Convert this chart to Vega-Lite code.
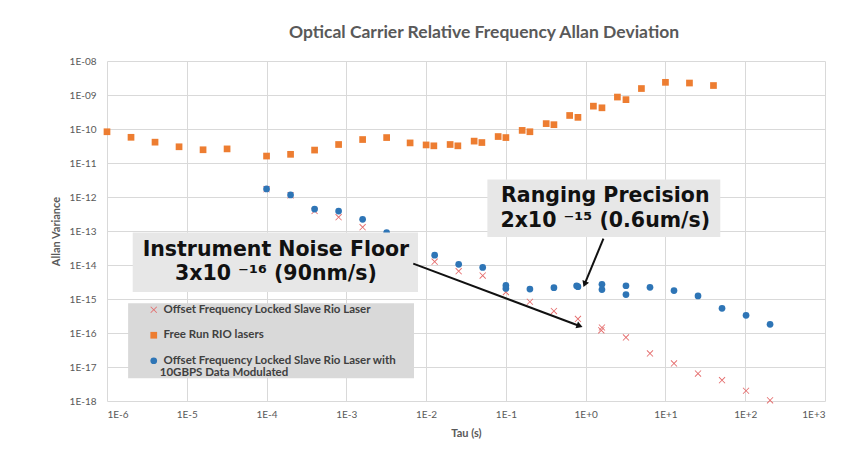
{
  "$schema": "https://vega.github.io/schema/vega-lite/v6.json",
  "width": 718,
  "height": 340,
  "autosize": {"type": "none"},
  "padding": {"left": 107, "top": 61, "right": 40, "bottom": 48},
  "background": "white",
  "title": {
    "text": "Optical Carrier Relative Frequency Allan Deviation",
    "font": "Lato",
    "fontSize": 17.5,
    "fontWeight": "bold",
    "color": "#595959",
    "anchor": "middle",
    "dx": 18,
    "offset": 15
  },
  "config": {
    "view": {"stroke": null},
    "font": "Lato",
    "legend": {
      "orient": "none",
      "legendX": 41,
      "legendY": 243,
      "padding": 0,
      "rowPadding": 12.5,
      "labelFont": "Lato",
      "labelFontWeight": "bold",
      "labelFontSize": 11.5,
      "labelColor": "#404040",
      "labelLimit": 400,
      "symbolSize": 45
    }
  },
  "datasets": {
    "pts": [
      {"series": "Offset Frequency Locked Slave Rio Laser", "tau": 1e-4, "v": 1.7e-12},
      {"series": "Offset Frequency Locked Slave Rio Laser", "tau": 2e-4, "v": 1.12e-12},
      {"series": "Offset Frequency Locked Slave Rio Laser", "tau": 4e-4, "v": 3.9e-13},
      {"series": "Offset Frequency Locked Slave Rio Laser", "tau": 8e-4, "v": 2.55e-13},
      {"series": "Offset Frequency Locked Slave Rio Laser", "tau": 1.6e-3, "v": 1.3e-13},
      {"series": "Offset Frequency Locked Slave Rio Laser", "tau": 3.2e-3, "v": 5.5e-14},
      {"series": "Offset Frequency Locked Slave Rio Laser", "tau": 6.4e-3, "v": 2.5e-14},
      {"series": "Offset Frequency Locked Slave Rio Laser", "tau": 1.28e-2, "v": 1.25e-14},
      {"series": "Offset Frequency Locked Slave Rio Laser", "tau": 2.56e-2, "v": 6.6e-15},
      {"series": "Offset Frequency Locked Slave Rio Laser", "tau": 5.12e-2, "v": 4.9e-15},
      {"series": "Offset Frequency Locked Slave Rio Laser", "tau": 0.1, "v": 1.6e-15},
      {"series": "Offset Frequency Locked Slave Rio Laser", "tau": 0.2, "v": 8.3e-16},
      {"series": "Offset Frequency Locked Slave Rio Laser", "tau": 0.4, "v": 4.4e-16},
      {"series": "Offset Frequency Locked Slave Rio Laser", "tau": 0.8, "v": 2.6e-16},
      {"series": "Offset Frequency Locked Slave Rio Laser", "tau": 1.6, "v": 1.45e-16},
      {"series": "Offset Frequency Locked Slave Rio Laser", "tau": 1.57, "v": 1.2e-16},
      {"series": "Offset Frequency Locked Slave Rio Laser", "tau": 3.2, "v": 7.4e-17},
      {"series": "Offset Frequency Locked Slave Rio Laser", "tau": 6.4, "v": 2.5e-17},
      {"series": "Offset Frequency Locked Slave Rio Laser", "tau": 12.8, "v": 1.27e-17},
      {"series": "Offset Frequency Locked Slave Rio Laser", "tau": 25.6, "v": 6.4e-18},
      {"series": "Offset Frequency Locked Slave Rio Laser", "tau": 51.2, "v": 4.1e-18},
      {"series": "Offset Frequency Locked Slave Rio Laser", "tau": 102.4, "v": 2.0e-18},
      {"series": "Offset Frequency Locked Slave Rio Laser", "tau": 204.8, "v": 1.05e-18},
      {"series": "Free Run RIO lasers", "tau": 1e-6, "v": 8.3e-11},
      {"series": "Free Run RIO lasers", "tau": 2e-6, "v": 5.7e-11},
      {"series": "Free Run RIO lasers", "tau": 4e-6, "v": 4.1e-11},
      {"series": "Free Run RIO lasers", "tau": 8e-6, "v": 3.0e-11},
      {"series": "Free Run RIO lasers", "tau": 1.6e-5, "v": 2.45e-11},
      {"series": "Free Run RIO lasers", "tau": 3.2e-5, "v": 2.6e-11},
      {"series": "Free Run RIO lasers", "tau": 1e-4, "v": 1.6e-11},
      {"series": "Free Run RIO lasers", "tau": 2e-4, "v": 1.8e-11},
      {"series": "Free Run RIO lasers", "tau": 4e-4, "v": 2.4e-11},
      {"series": "Free Run RIO lasers", "tau": 8e-4, "v": 3.5e-11},
      {"series": "Free Run RIO lasers", "tau": 1.6e-3, "v": 4.9e-11},
      {"series": "Free Run RIO lasers", "tau": 3.2e-3, "v": 5.6e-11},
      {"series": "Free Run RIO lasers", "tau": 6.3e-3, "v": 3.9e-11},
      {"series": "Free Run RIO lasers", "tau": 1e-2, "v": 3.4e-11},
      {"series": "Free Run RIO lasers", "tau": 1.25e-2, "v": 3.2e-11},
      {"series": "Free Run RIO lasers", "tau": 2e-2, "v": 3.5e-11},
      {"series": "Free Run RIO lasers", "tau": 2.5e-2, "v": 3.2e-11},
      {"series": "Free Run RIO lasers", "tau": 4e-2, "v": 4.4e-11},
      {"series": "Free Run RIO lasers", "tau": 5e-2, "v": 4.0e-11},
      {"series": "Free Run RIO lasers", "tau": 8e-2, "v": 6.0e-11},
      {"series": "Free Run RIO lasers", "tau": 0.1, "v": 5.6e-11},
      {"series": "Free Run RIO lasers", "tau": 0.16, "v": 9.1e-11},
      {"series": "Free Run RIO lasers", "tau": 0.2, "v": 8.3e-11},
      {"series": "Free Run RIO lasers", "tau": 0.32, "v": 1.44e-10},
      {"series": "Free Run RIO lasers", "tau": 0.4, "v": 1.34e-10},
      {"series": "Free Run RIO lasers", "tau": 0.63, "v": 2.5e-10},
      {"series": "Free Run RIO lasers", "tau": 0.8, "v": 2.2e-10},
      {"series": "Free Run RIO lasers", "tau": 1.25, "v": 4.7e-10},
      {"series": "Free Run RIO lasers", "tau": 1.6, "v": 4.2e-10},
      {"series": "Free Run RIO lasers", "tau": 2.5, "v": 8.7e-10},
      {"series": "Free Run RIO lasers", "tau": 3.2, "v": 7.3e-10},
      {"series": "Free Run RIO lasers", "tau": 5, "v": 1.55e-9},
      {"series": "Free Run RIO lasers", "tau": 10, "v": 2.36e-9},
      {"series": "Free Run RIO lasers", "tau": 20, "v": 2.25e-9},
      {"series": "Free Run RIO lasers", "tau": 40, "v": 1.9e-9},
      {"series": "Offset Frequency Locked Slave Rio Laser with 10GBPS Data Modulated", "tau": 1e-4, "v": 1.73e-12},
      {"series": "Offset Frequency Locked Slave Rio Laser with 10GBPS Data Modulated", "tau": 2e-4, "v": 1.15e-12},
      {"series": "Offset Frequency Locked Slave Rio Laser with 10GBPS Data Modulated", "tau": 4e-4, "v": 4.4e-13},
      {"series": "Offset Frequency Locked Slave Rio Laser with 10GBPS Data Modulated", "tau": 8e-4, "v": 3.85e-13},
      {"series": "Offset Frequency Locked Slave Rio Laser with 10GBPS Data Modulated", "tau": 1.6e-3, "v": 2.2e-13},
      {"series": "Offset Frequency Locked Slave Rio Laser with 10GBPS Data Modulated", "tau": 3.2e-3, "v": 8.9e-14},
      {"series": "Offset Frequency Locked Slave Rio Laser with 10GBPS Data Modulated", "tau": 6.4e-3, "v": 3.5e-14},
      {"series": "Offset Frequency Locked Slave Rio Laser with 10GBPS Data Modulated", "tau": 1.28e-2, "v": 1.95e-14},
      {"series": "Offset Frequency Locked Slave Rio Laser with 10GBPS Data Modulated", "tau": 2.56e-2, "v": 1.05e-14},
      {"series": "Offset Frequency Locked Slave Rio Laser with 10GBPS Data Modulated", "tau": 5.12e-2, "v": 8.5e-15},
      {"series": "Offset Frequency Locked Slave Rio Laser with 10GBPS Data Modulated", "tau": 0.1, "v": 2.5e-15},
      {"series": "Offset Frequency Locked Slave Rio Laser with 10GBPS Data Modulated", "tau": 0.1, "v": 2.05e-15},
      {"series": "Offset Frequency Locked Slave Rio Laser with 10GBPS Data Modulated", "tau": 0.2, "v": 1.96e-15},
      {"series": "Offset Frequency Locked Slave Rio Laser with 10GBPS Data Modulated", "tau": 0.4, "v": 2.15e-15},
      {"series": "Offset Frequency Locked Slave Rio Laser with 10GBPS Data Modulated", "tau": 0.77, "v": 2.45e-15},
      {"series": "Offset Frequency Locked Slave Rio Laser with 10GBPS Data Modulated", "tau": 0.8, "v": 2.3e-15},
      {"series": "Offset Frequency Locked Slave Rio Laser with 10GBPS Data Modulated", "tau": 1.6, "v": 2.7e-15},
      {"series": "Offset Frequency Locked Slave Rio Laser with 10GBPS Data Modulated", "tau": 1.6, "v": 1.9e-15},
      {"series": "Offset Frequency Locked Slave Rio Laser with 10GBPS Data Modulated", "tau": 3.2, "v": 2.45e-15},
      {"series": "Offset Frequency Locked Slave Rio Laser with 10GBPS Data Modulated", "tau": 3.2, "v": 1.35e-15},
      {"series": "Offset Frequency Locked Slave Rio Laser with 10GBPS Data Modulated", "tau": 6.4, "v": 2.2e-15},
      {"series": "Offset Frequency Locked Slave Rio Laser with 10GBPS Data Modulated", "tau": 12.8, "v": 1.77e-15},
      {"series": "Offset Frequency Locked Slave Rio Laser with 10GBPS Data Modulated", "tau": 25.6, "v": 1.23e-15},
      {"series": "Offset Frequency Locked Slave Rio Laser with 10GBPS Data Modulated", "tau": 51.2, "v": 5.3e-16},
      {"series": "Offset Frequency Locked Slave Rio Laser with 10GBPS Data Modulated", "tau": 102.4, "v": 3.3e-16},
      {"series": "Offset Frequency Locked Slave Rio Laser with 10GBPS Data Modulated", "tau": 204.8, "v": 1.8e-16}
    ],
    "legendbox": [
      {"tau": 1.84e-6, "tau2": 7.05e-3, "v": 7.48e-16, "v2": 4.68e-18}
    ],
    "annboxes": [
      {"tau": 2.10e-6, "tau2": 7.91e-3, "v": 8.97e-14, "v2": 1.61e-15},
      {"tau": 0.0586, "tau2": 48.7, "v": 3.25e-12, "v2": 6.67e-14}
    ],
    "anntext": [
      {"tau": 1.31e-4, "v": 2.71e-14, "txt": "Instrument Noise Floor"},
      {"tau": 1.31e-4, "v": 5.32e-15, "txt": "3x10 ⁻¹⁶ (90nm/s)"},
      {"tau": 1.76, "v": 1.05e-12, "txt": "Ranging Precision"},
      {"tau": 1.76, "v": 1.93e-13, "txt": "2x10 ⁻¹⁵ (0.6um/s)"}
    ],
    "legendline2": [
      {"tau": 4.58e-6, "v": 6.53e-18, "txt": "10GBPS Data Modulated"}
    ],
    "arrows": [
      {"tau": 1.67, "v": 5.97e-14, "tau2": 0.97, "v2": 2.72e-15},
      {"tau": 6.9e-3, "v": 1.1e-14, "tau2": 0.84, "v2": 1.61e-16}
    ],
    "head1": [{"tau": 0.97, "v": 2.72e-15}],
    "head2": [{"tau": 0.84, "v": 1.61e-16}]
  },
  "encoding": {
    "x": {
      "field": "tau",
      "type": "quantitative",
      "scale": {"type": "log", "domain": [1e-6, 1000], "nice": false},
      "axis": {
        "title": "Tau (s)",
        "values": [1e-6, 1e-5, 1e-4, 1e-3, 1e-2, 1e-1, 1, 10, 100, 1000],
        "labelExpr": "upper(format(datum.value, '.0e'))",
        "grid": true,
        "gridColor": "#d9d9d9",
        "domain": false,
        "ticks": false,
        "labelFont": "Lato",
        "labelFontSize": 10,
        "labelColor": "#595959",
        "labelPadding": 8,
        "titleFont": "Lato",
        "titleFontSize": 11,
        "titleFontWeight": "bold",
        "titleColor": "#595959",
        "titlePadding": 8
      }
    },
    "y": {
      "field": "v",
      "type": "quantitative",
      "scale": {"type": "log", "domain": [1e-18, 1e-8], "nice": false},
      "axis": {
        "title": "Allan Variance",
        "values": [1e-18, 1e-17, 1e-16, 1e-15, 1e-14, 1e-13, 1e-12, 1e-11, 1e-10, 1e-9, 1e-8],
        "labelExpr": "'1E-' + (round(-log(datum.value)/LN10) < 10 ? '0' : '') + round(-log(datum.value)/LN10)",
        "grid": true,
        "gridColor": "#d9d9d9",
        "domain": false,
        "ticks": false,
        "labelFont": "Lato",
        "labelFontSize": 10,
        "labelColor": "#595959",
        "labelPadding": 11,
        "titleFont": "Lato",
        "titleFontSize": 11,
        "titleFontWeight": "bold",
        "titleColor": "#595959",
        "titlePadding": 8
      }
    }
  },
  "layer": [
    {
      "data": {"name": "legendbox"},
      "mark": {"type": "rect", "fill": "#d9d9d9"},
      "encoding": {"x2": {"field": "tau2"}, "y2": {"field": "v2"}}
    },
    {
      "data": {"name": "pts"},
      "mark": {"type": "point", "filled": true, "size": 45, "opacity": 1},
      "encoding": {
        "color": {
          "field": "series",
          "type": "nominal",
          "title": null,
          "sort": null,
          "scale": {
            "domain": ["Offset Frequency Locked Slave Rio Laser", "Free Run RIO lasers", "Offset Frequency Locked Slave Rio Laser with 10GBPS Data Modulated"],
            "range": ["#E46B6B", "#ED7D31", "#2E75B6"]
          },
          "legend": {"labelExpr": "indexof(datum.label, ' with ') > 0 ? 'Offset Frequency Locked Slave Rio Laser with' : datum.label"}
        },
        "shape": {
          "field": "series",
          "type": "nominal",
          "title": null,
          "sort": null,
          "scale": {
            "domain": ["Offset Frequency Locked Slave Rio Laser", "Free Run RIO lasers", "Offset Frequency Locked Slave Rio Laser with 10GBPS Data Modulated"],
            "range": ["M-1,-0.82L-0.82,-1L0,-0.18L0.82,-1L1,-0.82L0.18,0L1,0.82L0.82,1L0,0.18L-0.82,1L-1,0.82L-0.18,0Z", "square", "circle"]
          },
          "legend": {"labelExpr": "indexof(datum.label, ' with ') > 0 ? 'Offset Frequency Locked Slave Rio Laser with' : datum.label"}
        }
      }
    },
    {
      "data": {"name": "annboxes"},
      "mark": {"type": "rect", "fill": "#e7e7e7"},
      "encoding": {"x2": {"field": "tau2"}, "y2": {"field": "v2"}}
    },
    {
      "data": {"name": "anntext"},
      "mark": {"type": "text", "font": "DejaVu Sans", "fontSize": 20.5, "fontWeight": "bold", "color": "#111111", "align": "center", "baseline": "middle"},
      "encoding": {"text": {"field": "txt"}}
    },
    {
      "data": {"name": "legendline2"},
      "mark": {"type": "text", "font": "Lato", "fontSize": 11.5, "fontWeight": "bold", "color": "#404040", "align": "left", "baseline": "middle"},
      "encoding": {"text": {"field": "txt"}}
    },
    {
      "data": {"name": "arrows"},
      "mark": {"type": "rule", "color": "#111111", "strokeWidth": 2},
      "encoding": {"x2": {"field": "tau2"}, "y2": {"field": "v2"}}
    },
    {
      "data": {"name": "head1"},
      "mark": {"type": "point", "shape": "triangle-up", "filled": true, "color": "#111111", "size": 50, "angle": 202.5, "opacity": 1},
      "encoding": {}
    },
    {
      "data": {"name": "head2"},
      "mark": {"type": "point", "shape": "triangle-up", "filled": true, "color": "#111111", "size": 50, "angle": 110.6, "opacity": 1},
      "encoding": {}
    }
  ]
}
